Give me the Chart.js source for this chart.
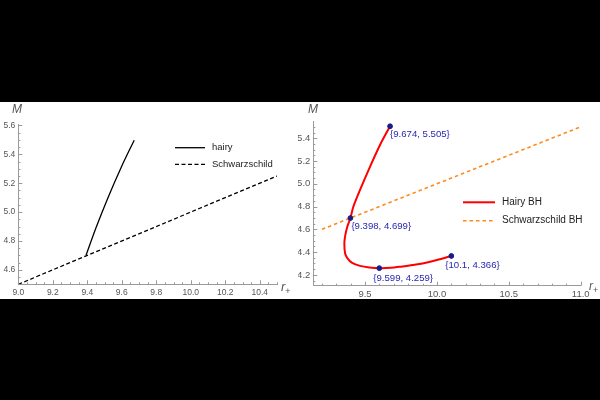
<!DOCTYPE html>
<html>
<head>
<meta charset="utf-8">
<script src="https://cdn.jsdelivr.net/npm/chart.js@4"></script>
<style>
body { margin: 0; width: 600px; height: 400px; background: #000; overflow: hidden; font-family: "Liberation Sans", Arial, sans-serif; }
#band { position: absolute; left: 0; top: 102px; width: 600px; height: 197px; background: #fff; }
.wrap { position: absolute; top: 102px; height: 197px; }
.ax { position: absolute; font-style: italic; color: #555; font-family: "Liberation Sans", Arial, sans-serif; }
.ax sub { font-size: 9px; font-style: normal; vertical-align: -3px; }
</style>
</head>
<body>
<div id="band"></div>
<div class="wrap" style="left:0;width:298px"><canvas id="leftChart" width="298" height="197"></canvas></div>
<div class="wrap" style="left:298px;width:302px"><canvas id="rightChart" width="302" height="197"></canvas></div>
<span class="ax" style="left:12px;top:102px;font-size:12px">M</span>
<span class="ax" style="left:281px;top:279px;font-size:13px">r<sub>+</sub></span>
<span class="ax" style="left:308px;top:102px;font-size:12px">M</span>
<span class="ax" style="left:589px;top:279px;font-size:12px">r<sub>+</sub></span>
<script>
// Left panel data
const leftHairyR = [9.393, 9.45, 9.52, 9.595, 9.672];
const leftHairyM = [4.702, 4.89, 5.10, 5.306, 5.498];
const leftSchwR = [9.0, 10.5];
const leftSchwM = [4.5, 5.25];
const leftXTicks = [9.0, 9.2, 9.4, 9.6, 9.8, 10.0, 10.2, 10.4];
const leftYTicks = [4.6, 4.8, 5.0, 5.2, 5.4, 5.6];

// Right panel data
const hairyR = [9.674, 9.604, 9.535, 9.465, 9.419, 9.398, 9.376, 9.362, 9.356, 9.361, 9.378, 9.41, 9.465, 9.53, 9.599, 9.68, 9.75, 9.83, 9.9, 10.0, 10.1];
const hairyM = [5.505, 5.341, 5.151, 4.946, 4.80, 4.699, 4.62, 4.545, 4.478, 4.39, 4.345, 4.305, 4.279, 4.265, 4.259, 4.262, 4.272, 4.286, 4.30, 4.33, 4.366];
const markR = [9.674, 9.398, 9.599, 10.1];
const markM = [5.505, 4.699, 4.259, 4.366];
const schwR = [9.2, 11.0];
const schwM = [4.6, 5.5];
const rightXTicks = [9.5, 10.0, 10.5, 11.0];
const rightYTicks = [4.2, 4.4, 4.6, 4.8, 5.0, 5.2, 5.4];

const pts = (xs, ys) => xs.map((x, i) => ({ x: x, y: ys[i] }));

// Mathematica-like inward ticks (major + minor)
const mmaTicks = {
    id: 'mmaTicks',
    afterDraw(chart, args, opts) {
        const ctx = chart.ctx;
        const { left, bottom } = chart.chartArea;
        ctx.save();
        ctx.strokeStyle = '#9a9a9a';
        ctx.lineWidth = 1;
        ctx.beginPath();
        ['x', 'y'].forEach(id => {
            const scale = chart.scales[id];
            const step = opts[id];
            const n0 = Math.ceil(scale.min / step - 1e-6);
            const n1 = Math.floor(scale.max / step + 1e-6);
            for (let n = n0; n <= n1; n++) {
                const v = n * step;
                const major = scale.ticks.some(t => Math.abs(t.value - v) < 1e-6);
                const len = major ? 4 : 2;
                const p = Math.round(scale.getPixelForValue(v)) + 0.5;
                if (id === 'x') { ctx.moveTo(p, bottom); ctx.lineTo(p, bottom - len); }
                else { ctx.moveTo(left, p); ctx.lineTo(left + len, p); }
            }
        });
        ctx.stroke();
        ctx.restore();
    }
};

// Legend drawn inside the plot
const innerLegend = {
    id: 'innerLegend',
    afterDraw(chart, args, o) {
        const ctx = chart.ctx;
        let row = 0;
        ctx.save();
        chart.data.datasets.forEach(ds => {
            if (!ds.label) return;
            const y = o.y + row * o.gap;
            ctx.strokeStyle = ds.borderColor;
            ctx.lineWidth = ds.borderWidth;
            ctx.setLineDash(ds.borderDash || []);
            ctx.beginPath();
            ctx.moveTo(o.x, y);
            ctx.lineTo(o.x + o.len, y);
            ctx.stroke();
            ctx.setLineDash([]);
            ctx.fillStyle = '#222';
            ctx.font = o.font;
            ctx.textBaseline = 'middle';
            ctx.fillText(ds.label, o.x + o.len + o.pad, y);
            row++;
        });
        ctx.restore();
    }
};

// Coordinate labels next to marked points
const pointLabels = {
    id: 'pointLabels',
    afterDatasetsDraw(chart, args, o) {
        const ctx = chart.ctx;
        ctx.save();
        ctx.fillStyle = '#2626b0';
        ctx.font = '9.6px "Liberation Sans", Arial, sans-serif';
        ctx.textBaseline = 'middle';
        chart.data.datasets.forEach((ds, di) => {
            if (!ds.coordLabels) return;
            chart.getDatasetMeta(di).data.forEach((el, i) => {
                const d = ds.data[i];
                const off = o.offsets[i];
                ctx.fillText('{' + d.x + ', ' + d.y + '}', el.x + off[0], el.y + off[1]);
            });
        });
        ctx.restore();
    }
};

function axisOpts(min, max, tickVals, fontSize, fit) {
    return {
        type: 'linear',
        min: min,
        max: max,
        afterBuildTicks: scale => { scale.ticks = tickVals.map(v => ({ value: v })); },
        afterFit: fit,
        grid: { drawOnChartArea: false, drawTicks: false },
        border: { display: true, color: '#9a9a9a', width: 1 },
        ticks: {
            color: '#555',
            padding: 3,
            font: { size: fontSize, family: '"Liberation Sans", Arial, sans-serif' },
            callback: v => Number(v).toFixed(1)
        }
    };
}

function createLeftChart() {
    const ctx = document.getElementById('leftChart').getContext('2d');
    new Chart(ctx, {
        type: 'scatter',
        data: {
            datasets: [
                {
                    label: 'hairy',
                    data: pts(leftHairyR, leftHairyM),
                    showLine: true,
                    cubicInterpolationMode: 'monotone',
                    borderColor: '#000',
                    borderWidth: 1.3,
                    pointRadius: 0
                },
                {
                    label: 'Schwarzschild',
                    data: pts(leftSchwR, leftSchwM),
                    showLine: true,
                    borderColor: '#000',
                    borderWidth: 1.3,
                    borderDash: [4, 2.5],
                    pointRadius: 0
                }
            ]
        },
        options: {
            responsive: false,
            animation: false,
            layout: { padding: { top: 22, right: 21, bottom: 0, left: 0 } },
            scales: {
                x: axisOpts(9.0, 10.5, leftXTicks, 8.5, s => { s.height = 14.7; }),
                y: axisOpts(4.5, 5.61, leftYTicks, 8.5, s => { s.width = 18.3; })
            },
            plugins: {
                legend: { display: false },
                tooltip: { enabled: false },
                mmaTicks: { x: 0.05, y: 0.05 },
                innerLegend: { x: 175, y: 45.7, gap: 16.6, len: 30, pad: 7, font: '9.5px "Liberation Sans", Arial, sans-serif' }
            }
        },
        plugins: [mmaTicks, innerLegend]
    });
}

function createRightChart() {
    const ctx = document.getElementById('rightChart').getContext('2d');
    new Chart(ctx, {
        type: 'scatter',
        data: {
            datasets: [
                {
                    data: pts(markR, markM),
                    coordLabels: true,
                    backgroundColor: '#1a1a8a',
                    borderColor: '#1a1a8a',
                    pointRadius: 2.4,
                    showLine: false
                },
                {
                    label: 'Hairy BH',
                    data: pts(hairyR, hairyM),
                    showLine: true,
                    tension: 0.3,
                    borderColor: '#ff0000',
                    borderWidth: 2,
                    pointRadius: 0
                },
                {
                    label: 'Schwarzschild BH',
                    data: pts(schwR, schwM),
                    showLine: true,
                    borderColor: '#ff8a1c',
                    borderWidth: 1.6,
                    borderDash: [3.5, 3],
                    pointRadius: 0
                }
            ]
        },
        options: {
            responsive: false,
            animation: false,
            layout: { padding: { top: 19.7, right: 19.3, bottom: 0, left: 0 } },
            scales: {
                x: axisOpts(9.14, 11.0, rightXTicks, 9.5, s => { s.height = 13.3; }),
                y: axisOpts(4.105, 5.545, rightYTicks, 9.5, s => { s.width = 15.3; })
            },
            plugins: {
                legend: { display: false },
                tooltip: { enabled: false },
                mmaTicks: { x: 0.1, y: 0.05 },
                innerLegend: { x: 165, y: 100.3, gap: 18.4, len: 32, pad: 7, font: '10px "Liberation Sans", Arial, sans-serif' },
                pointLabels: { offsets: [[0, 8.5], [1, 8.5], [-6, 10], [-6, 9]] }
            }
        },
        plugins: [mmaTicks, innerLegend, pointLabels]
    });
}

document.addEventListener('DOMContentLoaded', () => {
    createLeftChart();
    createRightChart();
});
</script>
</body>
</html>
